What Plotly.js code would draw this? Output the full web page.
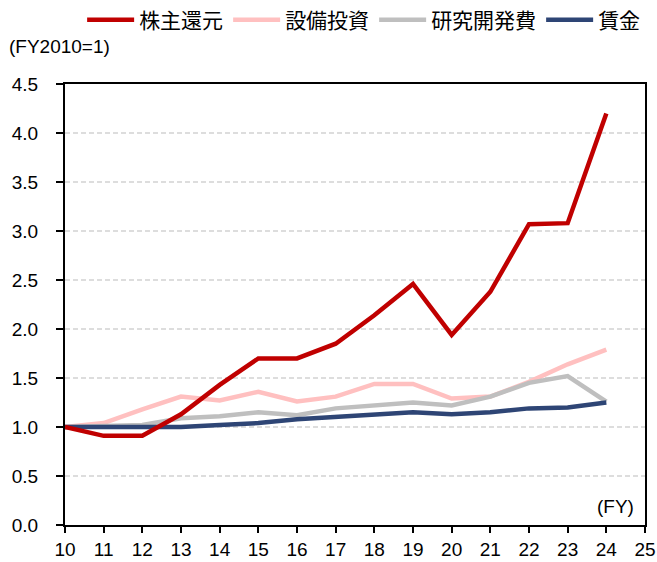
<!DOCTYPE html>
<html>
<head>
<meta charset="utf-8">
<script src="https://cdn.plot.ly/plotly-3.0.1.min.js"></script>
<style>html,body{margin:0;padding:0;background:#fff;}#chart{width:657px;height:562px;}</style>
</head>
<body>
<div id="chart"></div>
<script>
var years = [10, 11, 12, 13, 14, 15, 16, 17, 18, 19, 20, 21, 22, 23, 24];
var shareholderReturns = [1.00, 0.91, 0.91, 1.13, 1.43, 1.70, 1.70, 1.85, 2.14, 2.46, 1.94, 2.38, 3.07, 3.08, 4.20];
var capex = [1.00, 1.04, 1.18, 1.31, 1.27, 1.36, 1.26, 1.31, 1.44, 1.44, 1.29, 1.31, 1.46, 1.64, 1.79];
var rnd = [1.00, 1.01, 1.02, 1.09, 1.11, 1.15, 1.12, 1.19, 1.22, 1.25, 1.22, 1.31, 1.45, 1.52, 1.26];
var wages = [1.00, 1.00, 1.00, 1.00, 1.02, 1.04, 1.08, 1.10, 1.13, 1.15, 1.13, 1.15, 1.19, 1.20, 1.25];
var seriesNames = ['株主還元', '設備投資', '研究開発費', '賃金'];
var seriesColors = ['#C00000', '#FFC0C0', '#BFBFBF', '#2E4575'];
var xTicks = [10, 11, 12, 13, 14, 15, 16, 17, 18, 19, 20, 21, 22, 23, 24, 25];
var yTicks = [0, 0.5, 1, 1.5, 2, 2.5, 3, 3.5, 4, 4.5];

var FONT = 'Liberation Sans, Arial, "Noto Sans CJK JP", sans-serif';
var allValues = [shareholderReturns, capex, rnd, wages];
var traces = [];
// draw order: red on top, navy over gray, gray over pink
var drawOrder = [1, 2, 3, 0];
drawOrder.forEach(function (i) {
  traces.push({
    x: years, y: allValues[i], name: seriesNames[i], type: 'scatter', mode: 'lines',
    line: {color: seriesColors[i], width: 4.5}, legendrank: i + 1
  });
});

var layout = {
  width: 657, height: 562,
  margin: {l: 65, r: 12, t: 84, b: 37},
  paper_bgcolor: '#fff', plot_bgcolor: '#fff',
  font: {family: FONT, size: 19, color: '#000'},
  showlegend: true,
  legend: {
    orientation: 'h', xref: 'container', yref: 'container',
    x: 0.125, y: 1 - 20 / 562, xanchor: 'left', yanchor: 'middle',
    font: {family: FONT, size: 21, color: '#000'},
    itemwidth: 47, tracegroupgap: 0, traceorder: 'normal',
    bgcolor: 'rgba(0,0,0,0)'
  },
  xaxis: {
    range: [10, 25], tickvals: xTicks, ticktext: xTicks.map(String),
    ticks: 'outside', ticklen: 6, tickwidth: 2, tickcolor: '#000',
    showline: true, linecolor: '#000', linewidth: 2, mirror: true,
    showgrid: false, zeroline: false, fixedrange: true,
    tickfont: {family: FONT, size: 19, color: '#000'}
  },
  yaxis: {
    range: [0, 4.5], tickvals: yTicks, tickformat: '.1f',
    ticks: 'outside', ticklen: 7, tickwidth: 2, tickcolor: '#000',
    showline: true, linecolor: '#000', linewidth: 2, mirror: true,
    showgrid: true, gridcolor: '#DDDDDD', gridwidth: 1.5, griddash: '5px,3px',
    zeroline: false, fixedrange: true, ticklabelstandoff: 14,
    tickfont: {family: FONT, size: 19, color: '#000'}
  },
  annotations: [
    {text: '(FY2010=1)', xref: 'paper', yref: 'paper', x: (7 - 65) / 580, y: (525 - 47) / 441,
     xanchor: 'left', yanchor: 'middle', showarrow: false, font: {family: FONT, size: 19, color: '#000'}},
    {text: '(FY)', xref: 'paper', yref: 'paper', x: (636 - 65) / 580, y: (525 - 506) / 441,
     xanchor: 'right', yanchor: 'middle', showarrow: false, font: {family: FONT, size: 19, color: '#000'}}
  ]
};

Plotly.newPlot('chart', traces, layout, {displayModeBar: false, staticPlot: true});
</script>
</body>
</html>
